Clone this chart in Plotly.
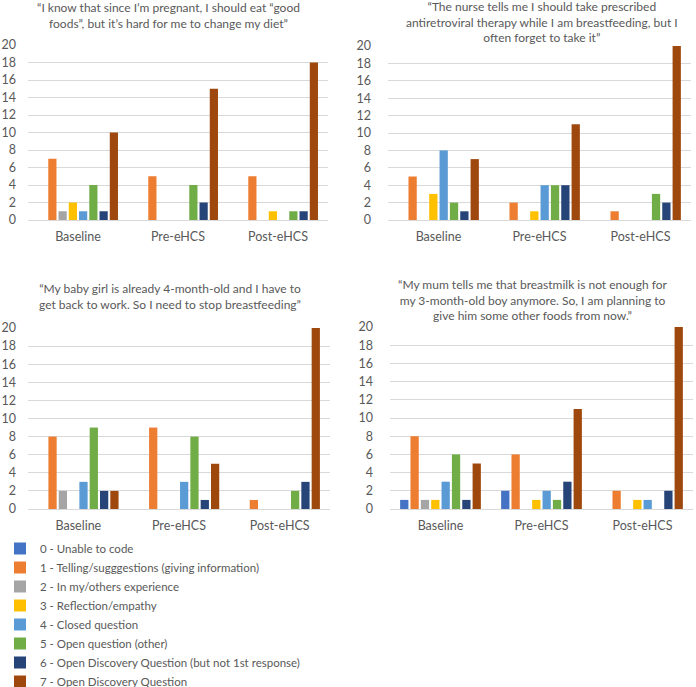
import plotly.graph_objects as go

W, H = 696, 687

groups = ["Baseline", "Pre-eHCS", "Post-eHCS"]
codes = [
    "0 - Unable to code",
    "1 - Telling/sugggestions (giving information)",
    "2 - In my/others experience",
    "3 - Reflection/empathy",
    "4 - Closed question",
    "5 - Open question (other)",
    "6 - Open Discovery Question (but not 1st response)",
    "7 - Open Discovery Question",
]
colors = ["#4472C4", "#ED7D31", "#A5A5A5", "#FFC000", "#5B9BD5", "#70AD47", "#264478", "#9E480E"]

titles = [
    "“I know that since I’m pregnant, I should eat “good<br>foods”, but it’s hard for me to change my diet”",
    "“The nurse tells me I should take prescribed<br>antiretroviral therapy while I am breastfeeding, but I<br>often forget to take it”",
    "“My baby girl is already 4-month-old and I have to<br>get back to work. So I need to stop breastfeeding”",
    "“My mum tells me that breastmilk is not enough for<br>my 3-month-old boy anymore. So, I am planning to<br>give him some other foods from now.”",
]

# values[panel][code] -> [Baseline, Pre-eHCS, Post-eHCS]
panel1 = [[0, 0, 0], [7, 5, 5], [1, 0, 0], [2, 0, 1], [1, 0, 0], [4, 4, 1], [1, 2, 1], [10, 15, 18]]
panel2 = [[0, 0, 0], [5, 2, 1], [0, 0, 0], [3, 1, 0], [8, 4, 0], [2, 4, 3], [1, 4, 2], [7, 11, 20]]
panel3 = [[0, 0, 0], [8, 9, 1], [2, 0, 0], [0, 0, 0], [3, 3, 0], [9, 8, 2], [2, 1, 3], [2, 5, 20]]
panel4 = [[1, 2, 0], [8, 6, 2], [1, 0, 0], [1, 1, 1], [3, 2, 1], [6, 1, 0], [1, 3, 2], [5, 11, 20]]
panels = [panel1, panel2, panel3, panel4]

# plot-area pixel boxes: (x0, x1, ytop, ybottom)
boxes = [(28, 328, 45, 220), (388, 691, 46, 220), (28, 330, 328, 509), (390, 693, 327, 509)]
title_pos = [(168, 15), (542, 22), (170, 296), (533, 300)]

FONT = "Lato"
GREY = "#595959"

fig = go.Figure()
for p, data in enumerate(panels):
    ax = "" if p == 0 else str(p + 1)
    for c, vals in enumerate(data):
        fig.add_trace(go.Bar(
            x=groups, y=vals, name=codes[c], marker_color=colors[c],
            marker_line_width=0, xaxis="x" + ax, yaxis="y" + ax,
            showlegend=(p == 0), legendgroup=str(c),
        ))

layout = dict(
    width=W, height=H, margin=dict(l=0, r=0, t=0, b=0, autoexpand=False),
    paper_bgcolor="white", plot_bgcolor="white",
    barmode="group", bargap=0.18, bargroupgap=0.2,
    font=dict(family=FONT, color=GREY, size=12),
    legend=dict(x=0, y=1 - 534 / H, xanchor="left", yanchor="top",
                font=dict(size=11.5, color=GREY), tracegroupgap=0,
                itemwidth=30, bgcolor="rgba(0,0,0,0)"),
    annotations=[],
)
for p, (x0, x1, yt, yb) in enumerate(boxes):
    ax = "" if p == 0 else str(p + 1)
    layout["xaxis" + ax] = dict(
        domain=[x0 / W, x1 / W], anchor="y" + ax, showgrid=False, showline=False,
        ticks="", tickfont=dict(size=12.5, color=GREY), ticklabelstandoff=7,
    )
    layout["yaxis" + ax] = dict(
        domain=[1 - yb / H, 1 - yt / H], anchor="x" + ax, range=[0, 20], dtick=2,
        showgrid=True, gridcolor="#D9D9D9", gridwidth=1, zeroline=True,
        zerolinecolor="#D9D9D9", zerolinewidth=1, showline=False, ticks="",
        tickfont=dict(size=12.5, color=GREY), ticklabelstandoff=11 if p % 2 == 0 else 16,
    )
    tx, ty = title_pos[p]
    layout["annotations"].append(dict(
        text=titles[p], x=tx / W, y=1 - ty / H, xref="paper", yref="paper",
        xanchor="center", yanchor="middle", showarrow=False,
        font=dict(size=12, color=GREY, family=FONT), align="center",
    ))

fig.update_layout(**layout)
fig.write_html("out.html", config={"displayModeBar": False},
               post_script="document.body.style.margin='0';")
